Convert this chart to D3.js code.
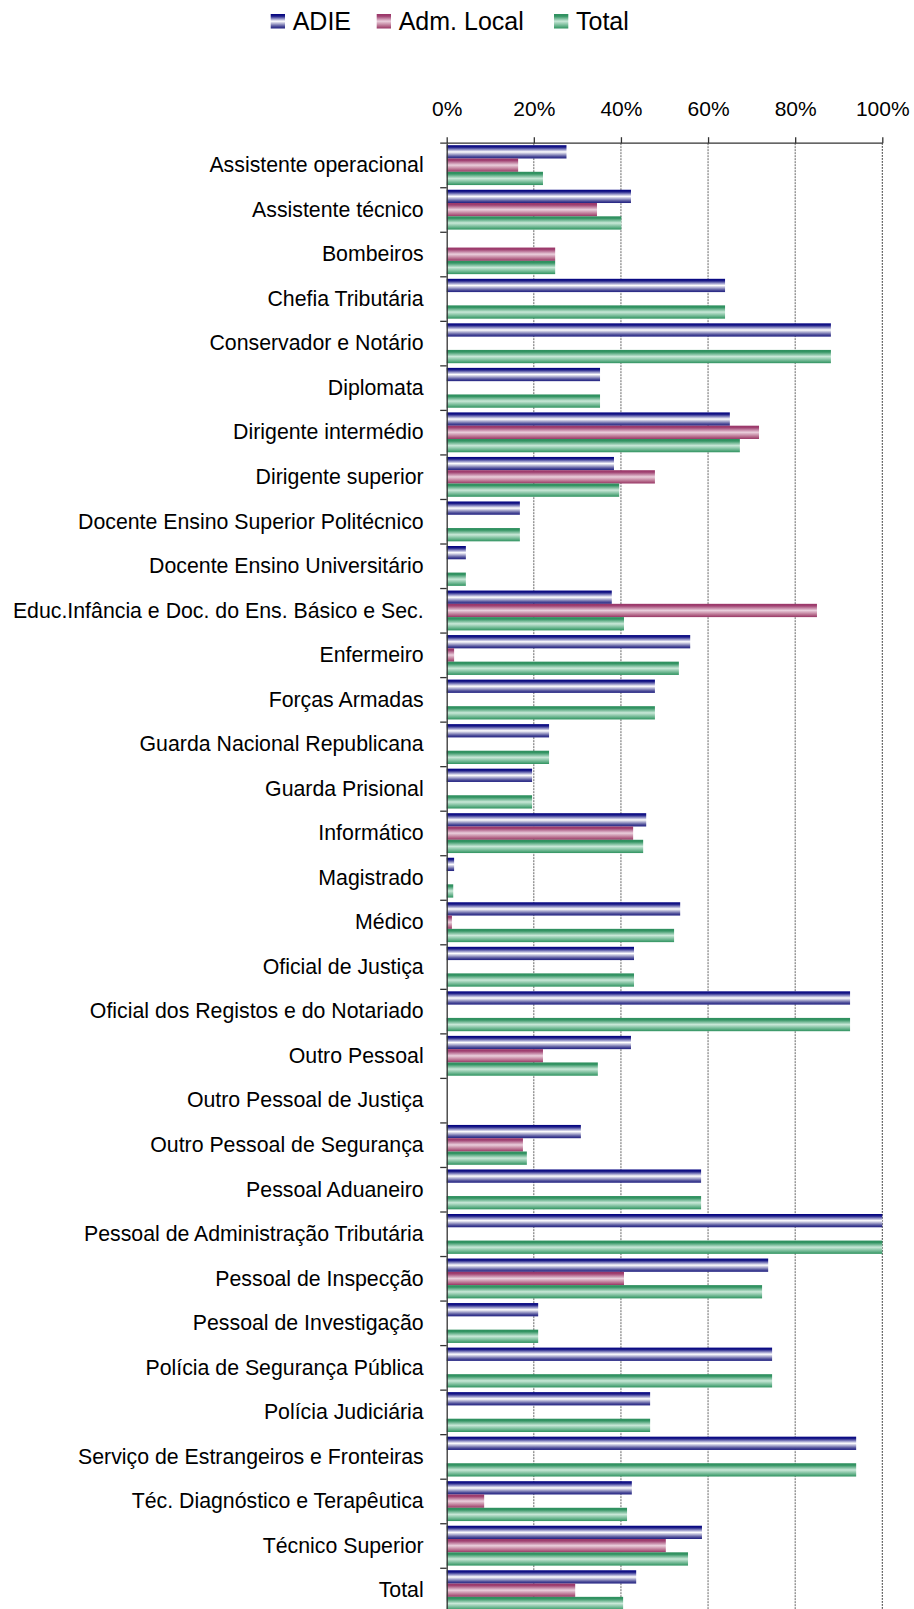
<!DOCTYPE html>
<html>
<head>
<meta charset="utf-8">
<script src="https://cdn.jsdelivr.net/npm/d3@7"></script>
<style>
  html, body { margin: 0; padding: 0; background: #fff; }
  svg { display: block; font-family: "Liberation Sans", Arial, sans-serif; }
</style>
</head>
<body>
<svg id="chart" width="914" height="1609"></svg>
<script>
const categories = [
  "Assistente operacional",
  "Assistente técnico",
  "Bombeiros",
  "Chefia Tributária",
  "Conservador e Notário",
  "Diplomata",
  "Dirigente intermédio",
  "Dirigente superior",
  "Docente Ensino Superior Politécnico",
  "Docente Ensino Universitário",
  "Educ.Infância e Doc. do Ens. Básico e Sec.",
  "Enfermeiro",
  "Forças Armadas",
  "Guarda Nacional Republicana",
  "Guarda Prisional",
  "Informático",
  "Magistrado",
  "Médico",
  "Oficial de Justiça",
  "Oficial dos Registos e do Notariado",
  "Outro Pessoal",
  "Outro Pessoal de Justiça",
  "Outro Pessoal de Segurança",
  "Pessoal Aduaneiro",
  "Pessoal de Administração Tributária",
  "Pessoal de Inspecção",
  "Pessoal de Investigação",
  "Polícia de Segurança Pública",
  "Polícia Judiciária",
  "Serviço de Estrangeiros e Fronteiras",
  "Téc. Diagnóstico e Terapêutica",
  "Técnico Superior",
  "Total"
];
const seriesNames = ["ADIE", "Adm. Local", "Total"];
const adie = [27.5, 42.3, null, 63.9, 88.2, 35.2, 65.0, 38.4, 16.8, 4.4, 37.9, 55.9, 47.8, 23.5, 19.6, 45.8, 1.7, 53.6, 43.0, 92.6, 42.3, null, 30.8, 58.4, 100, 73.8, 21.0, 74.7, 46.7, 94.0, 42.5, 58.6, 43.5];
const admLocal = [16.4, 34.5, 24.9, null, null, null, 71.7, 47.8, null, null, 85.0, 1.7, null, null, null, 42.8, null, 1.2, null, null, 22.1, null, 17.5, null, null, 40.7, null, null, null, null, 8.6, 50.3, 29.5];
const total = [22.1, 40.1, 24.9, 63.9, 88.2, 35.2, 67.3, 39.6, 16.8, 4.4, 40.7, 53.3, 47.8, 23.5, 19.6, 45.1, 1.5, 52.2, 43.0, 92.6, 34.7, null, 18.4, 58.4, 100, 72.4, 21.0, 74.7, 46.7, 94.0, 41.4, 55.4, 40.5];
const xTicks = [0, 20, 40, 60, 80, 100];

(function () {
const FONT = "'Liberation Sans', Arial, sans-serif";
const seriesValues = [adie, admLocal, total];
const gradIds = ["gAdie", "gAdm", "gTotal"];

const svg = d3.select("#chart");
const defs = svg.append("defs");
const gradStops = [
  [["0", "#000080"], ["0.15", "#1c1c88"], ["0.5", "#ffffff"], ["0.85", "#50509a"], ["1", "#1f1f80"]],
  [["0", "#993366"], ["0.15", "#a04272"], ["0.5", "#eacfdc"], ["0.85", "#b26486"], ["1", "#973565"]],
  [["0", "#2e8f5e"], ["0.15", "#339463"], ["0.5", "#c9e8d8"], ["0.85", "#5eae85"], ["1", "#2f925f"]]
];
gradIds.forEach((id, i) => {
  const g = defs.append("linearGradient").attr("id", id)
    .attr("x1", 0).attr("y1", 0).attr("x2", 0).attr("y2", 1);
  gradStops[i].forEach(s => g.append("stop").attr("offset", s[0]).attr("stop-color", s[1]));
});

const pLeft = 446.7, pRight = 882.3, pTop = 143.2, pBottom = 1612.8;
const x = d3.scaleLinear().domain([0, 100]).range([pLeft, pRight]);
const y0 = d3.scaleBand().domain(categories).range([pTop, pBottom]).padding(0);
const bw = y0.bandwidth();
const y1 = d3.scaleBand().domain(seriesNames).range([bw * 0.045, bw * 0.94]).padding(0);

// gridlines
const grid = svg.append("g");
xTicks.filter(t => t > 0).forEach(t => {
  grid.append("line")
    .attr("x1", x(t)).attr("x2", x(t))
    .attr("y1", pTop).attr("y2", pBottom)
    .attr("stroke", t === 100 ? "#111" : "#666")
    .attr("stroke-width", 1)
    .attr("stroke-dasharray", t === 100 ? "1.5,1.5" : "2,1");
});

// top axis
const xAxis = d3.axisTop(x).tickValues(xTicks).tickFormat(d => d + "%").tickSize(6).tickPadding(21);
const gx = svg.append("g").attr("transform", `translate(0,${pTop})`).call(xAxis);
gx.select(".domain").remove();
gx.selectAll(".tick line").attr("stroke", "#333").attr("stroke-width", 1.3);
gx.selectAll(".tick text").attr("font-size", 21).attr("fill", "#000").attr("font-family", FONT);
svg.append("line").attr("x1", pLeft - 6.5).attr("x2", pRight)
  .attr("y1", pTop).attr("y2", pTop).attr("stroke", "#333").attr("stroke-width", 1.3);

// bars
const groups = svg.append("g").selectAll("g").data(categories).join("g")
  .attr("transform", d => `translate(0,${y0(d)})`);
seriesNames.forEach((s, si) => {
  groups.filter((d, i) => seriesValues[si][i] != null)
    .append("rect")
    .attr("x", x(0))
    .attr("y", y1(s))
    .attr("height", y1.bandwidth())
    .attr("width", d => x(seriesValues[si][categories.indexOf(d)]) - x(0))
    .attr("fill", `url(#${gradIds[si]})`);
});

// left axis
const yAxis = d3.axisLeft(y0).tickSize(0).tickPadding(23);
const gy = svg.append("g").attr("transform", `translate(${pLeft},0)`).call(yAxis);
gy.select(".domain").attr("stroke", "#333").attr("stroke-width", 1.3);
gy.selectAll(".tick text").attr("font-size", 21.3).attr("fill", "#000").attr("font-family", FONT);
// category boundary ticks
const bounds = categories.slice(1).map(c => y0(c));
svg.append("g").selectAll("line").data(bounds).join("line")
  .attr("x1", pLeft - 6.5).attr("x2", pLeft)
  .attr("y1", d => d).attr("y2", d => d)
  .attr("stroke", "#333").attr("stroke-width", 1.3);

// legend
const legendX = [270.7, 376.7, 554];
const leg = svg.append("g");
seriesNames.forEach((s, i) => {
  leg.append("rect").attr("x", legendX[i]).attr("y", 14)
    .attr("width", 14.3).attr("height", 14.5).attr("fill", `url(#${gradIds[i]})`);
  leg.append("text").attr("x", legendX[i] + 22).attr("y", 30)
    .attr("font-size", 25).attr("fill", "#000").attr("font-family", FONT).text(s);
});
})();
</script>
</body>
</html>
